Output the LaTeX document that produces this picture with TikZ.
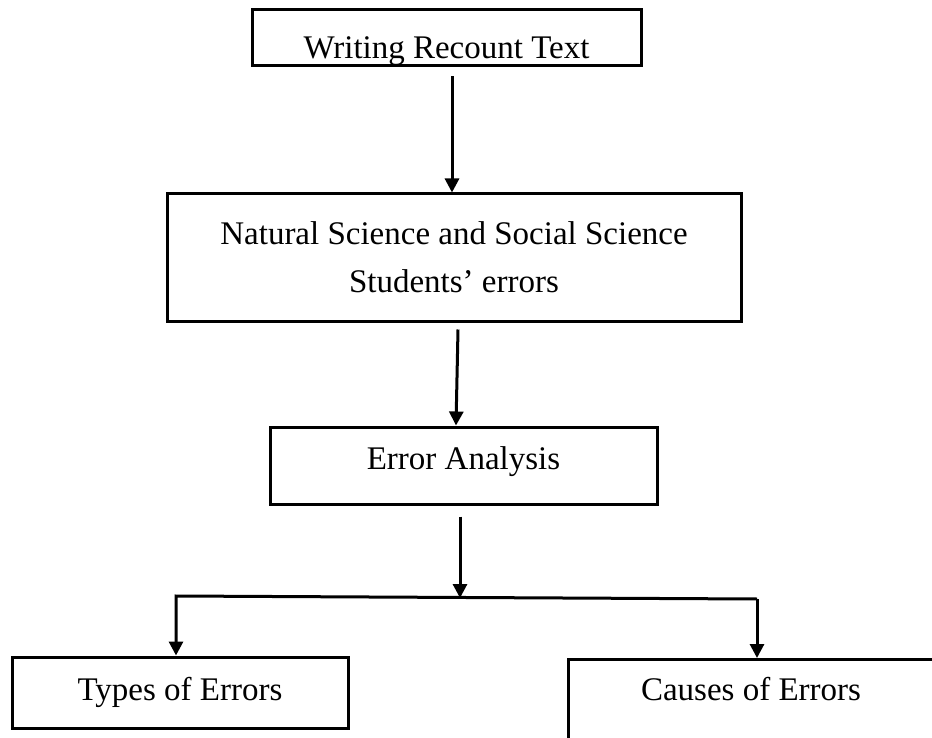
\documentclass[tikz,border=0pt]{standalone}
\usepackage{fontspec}
\setmainfont{Liberation Serif}
\usepackage{tikz}
\usetikzlibrary{shapes,arrows.meta,positioning}
\tikzstyle{stage} = [rectangle, draw=black, line width=3pt, text=black, text centered, align=center, font=\fontsize{33}{48}\selectfont, inner sep=0pt]
\tikzstyle{tedge} = [draw, line width=3pt, -{Triangle[length=14pt, width=14pt]}]

\begin{document}
\begin{tikzpicture}[x=1pt, y=-1pt]
\useasboundingbox (0,0) rectangle (932,738);
\clip (0,0) rectangle (932,738);

% stages =============================
\node[stage, minimum width=389pt, minimum height=56pt, text height=49pt, text depth=7pt] (recount) at (446.5,38) {Writing Recount Text};
\node[stage, minimum width=574pt, minimum height=127pt] (students) at (454,257.5) {Natural Science and Social Science\\Students’ errors};
\node[stage, minimum width=387pt, minimum height=77pt, text height=22pt, text depth=15pt] (analysis) at (463.5,465.5) {Error Analysis};
\node[stage, minimum width=336pt, minimum height=71pt] (types) at (180,692.5) {Types of Errors};
\node[stage, anchor=north, minimum width=366pt, text height=41pt, text depth=80pt] (causes) at (751,658) {Causes of Errors};

% branch points
\coordinate (split) at (460,598);
\coordinate (leftend) at (176,596);
\coordinate (rightend) at (757,599);

% edges
\path[tedge] ([xshift=5.5pt,yshift=-9pt]recount.south) -- ([xshift=-2pt]students.north);
\path[tedge] ([xshift=4pt,yshift=-7pt]students.south) -- ([xshift=-7.5pt]analysis.north);
\path[tedge] ([xshift=-3.5pt,yshift=-11pt]analysis.south) -- (split);
\path[tedge] (rightend) -- (leftend) -- (leftend |- types.north);
\path[tedge] (rightend) -- (rightend |- causes.north);

\end{tikzpicture}
\end{document}
